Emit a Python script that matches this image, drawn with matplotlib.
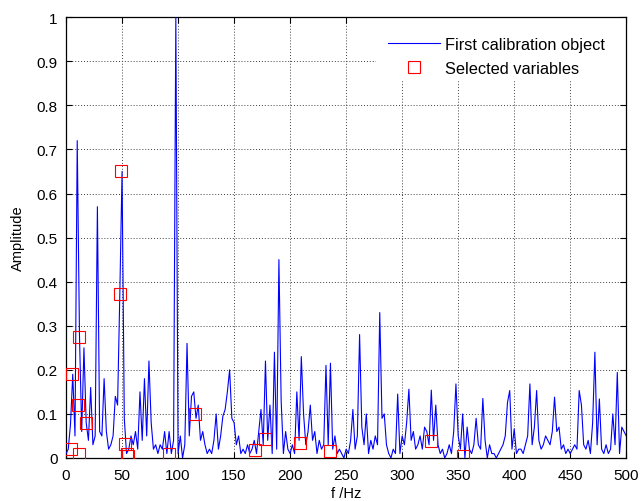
import numpy as np
import matplotlib
matplotlib.use("Agg")
import matplotlib.pyplot as plt
from matplotlib.ticker import FuncFormatter
from matplotlib.patches import Rectangle

plt.rcParams['font.family'] = ['Liberation Sans', 'DejaVu Sans']

# Spectrum amplitude, sampled every 2 Hz from 0 to 500 Hz
freq_step = 2
amplitude = [
    0.01, 0.02, 0.077, 0.19, 0.05, 0.72, 0.28, 0.06, 0.25, 0.08,   # 0-18
    0.04, 0.16, 0.03, 0.05, 0.57, 0.06, 0.05, 0.18, 0.06, 0.02,    # 20-38
    0.03, 0.05, 0.14, 0.12, 0.37, 0.65, 0.09, 0.01, 0.02, 0.05,    # 40-58
    0.03, 0.06, 0.02, 0.15, 0.04, 0.18, 0.05, 0.22, 0.08, 0.02,    # 60-78
    0.03, 0.01, 0.03, 0.02, 0.06, 0.01, 0.06, 0.01, 0.04, 1.00,    # 80-98
    0.01, 0.05, 0.00, 0.03, 0.26, 0.05, 0.14, 0.15, 0.09, 0.12,    # 100-118
    0.04, 0.06, 0.03, 0.01, 0.02, 0.01, 0.04, 0.10, 0.02, 0.05,    # 120-138
    0.095, 0.11, 0.15, 0.20, 0.09, 0.08, 0.03, 0.05, 0.01, 0.02,   # 140-158
    0.01, 0.03, 0.01, 0.02, 0.04, 0.01, 0.06, 0.11, 0.03, 0.22,    # 160-178
    0.04, 0.12, 0.01, 0.24, 0.02, 0.45, 0.13, 0.01, 0.06, 0.02,    # 180-198
    0.01, 0.03, 0.01, 0.15, 0.04, 0.23, 0.10, 0.03, 0.06, 0.12,    # 200-218
    0.04, 0.06, 0.01, 0.04, 0.02, 0.03, 0.21, 0.03, 0.215, 0.02,   # 220-238
    0.05, 0.01, 0.02, 0.01, 0.00, 0.02, 0.01, 0.04, 0.11, 0.02,    # 240-258
    0.05, 0.28, 0.07, 0.03, 0.10, 0.01, 0.04, 0.02, 0.05, 0.03,    # 260-278
    0.33, 0.09, 0.10, 0.03, 0.01, 0.00, 0.02, 0.01, 0.145, 0.01,   # 280-298
    0.05, 0.03, 0.08, 0.156, 0.04, 0.06, 0.02, 0.03, 0.05, 0.02,   # 300-318
    0.07, 0.06, 0.03, 0.154, 0.04, 0.12, 0.03, 0.01, 0.02, 0.00,   # 320-338
    0.01, 0.03, 0.01, 0.06, 0.168, 0.05, 0.02, 0.10, 0.00, 0.07,   # 340-358
    0.02, 0.01, 0.03, 0.09, 0.03, 0.02, 0.135, 0.04, 0.00, 0.03,   # 360-378
    0.01, 0.01, 0.00, 0.01, 0.02, 0.03, 0.05, 0.126, 0.153, 0.02,  # 380-398
    0.066, 0.01, 0.02, 0.02, 0.01, 0.03, 0.05, 0.168, 0.03, 0.07,  # 400-418
    0.153, 0.04, 0.02, 0.03, 0.05, 0.04, 0.03, 0.06, 0.138, 0.06,  # 420-438
    0.07, 0.02, 0.03, 0.01, 0.02, 0.01, 0.02, 0.03, 0.02, 0.153,   # 440-458
    0.12, 0.03, 0.02, 0.04, 0.01, 0.08, 0.24, 0.03, 0.134, 0.02,   # 460-478
    0.01, 0.03, 0.01, 0.02, 0.10, 0.03, 0.194, 0.01, 0.07, 0.06,   # 480-498
    0.05,                                                          # 500
]
frequency = np.arange(len(amplitude)) * freq_step

# Selected variables (frequency in Hz, amplitude)
sel_freq = [4.5, 5.5, 11.5, 11, 11.5, 18, 49, 48, 52.5, 54.5, 55,
            92, 115, 169, 178, 209, 236, 325.5, 354]
sel_amp = [0.02, 0.19, 0.275, 0.12, 0.01, 0.08, 0.65, 0.372, 0.032, 0.01, 0.005,
           0.008, 0.10, 0.019, 0.043, 0.033, 0.016, 0.039, 0.005]

x_ticks = [0, 50, 100, 150, 200, 250, 300, 350, 400, 450, 500]
y_ticks = [0, 0.1, 0.2, 0.3, 0.4, 0.5, 0.6, 0.7, 0.8, 0.9, 1.0]

fig = plt.figure(figsize=(6.41, 5.02), dpi=100)
ax = fig.add_axes([0.103, 0.0857, 0.874, 0.878])

ax.plot(frequency, amplitude, color='#0000FF', linewidth=0.8,
        label='First calibration object', zorder=3)
ax.plot(sel_freq, sel_amp, linestyle='none', marker='s', markersize=8,
        markerfacecolor='none', markeredgecolor='#FF0000', markeredgewidth=0.8,
        label='Selected variables', zorder=4)

ax.set_xlim(0, 500)
ax.set_ylim(0, 1)
ax.set_xticks(x_ticks)
ax.set_yticks(y_ticks)
ax.yaxis.set_major_formatter(FuncFormatter(lambda v, p: '%g' % v))
ax.tick_params(direction='in', top=True, right=True, labelsize=11,
               length=4, width=0.8, colors='black')
ax.tick_params(axis='x', pad=7)
ax.tick_params(axis='y', pad=6)
ax.grid(True, color='#404040', linestyle=(0, (1, 2)), linewidth=0.7)
for s in ax.spines.values():
    s.set_linewidth(0.9)
    s.set_color('black')

ax.set_xlabel('f /Hz', fontsize=10.5, labelpad=3)
ax.set_ylabel('Amplitude', fontsize=10.5, labelpad=8)

# white legend background (covers the grid, no visible border)
ax.add_patch(Rectangle((0.5536, 0.855), 0.4464, 0.145, transform=ax.transAxes,
                       facecolor='white', edgecolor='none', zorder=2))

leg = ax.legend(loc='upper left', bbox_to_anchor=(0.566, 0.967),
                fontsize=11.8, frameon=False,
                borderaxespad=0.0, handlelength=3.2, handletextpad=0.3,
                borderpad=0.3, labelspacing=0.57)
leg.set_zorder(5)

fig.savefig('out.png', dpi=100)
